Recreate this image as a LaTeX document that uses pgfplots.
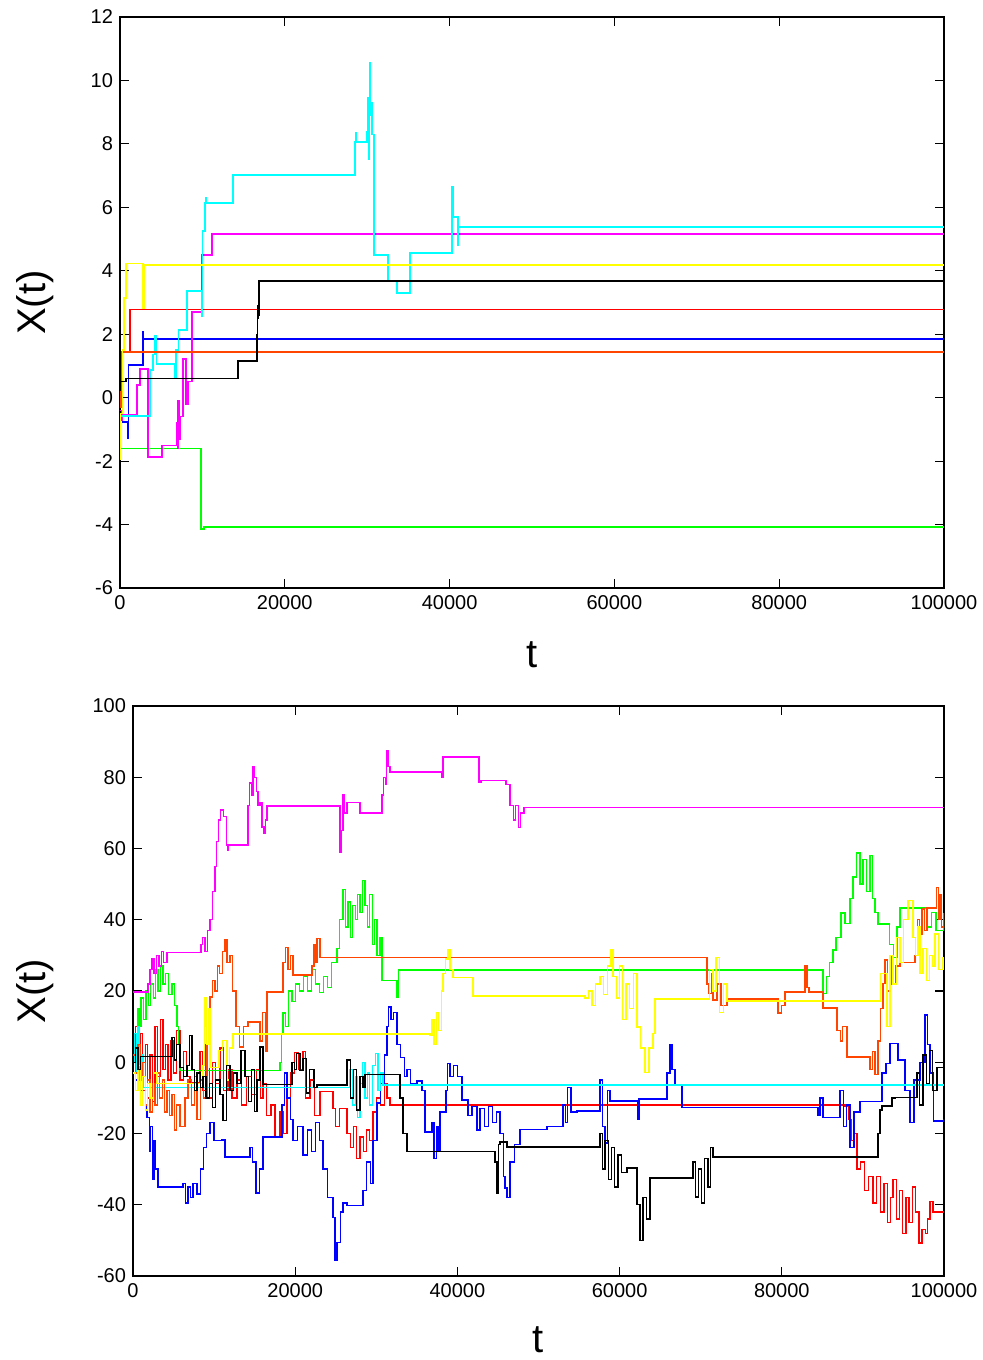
\documentclass[border=0pt]{standalone}
\usepackage{fontspec}
\setmainfont{Liberation Sans}
\usepackage{pgfplots}
\pgfplotsset{compat=1.18}

\definecolor{gpred}{RGB}{255,0,0}
\definecolor{gpgreen}{RGB}{0,255,0}
\definecolor{gpblue}{RGB}{0,0,255}
\definecolor{gpmagenta}{RGB}{255,0,255}
\definecolor{gpcyan}{RGB}{0,255,255}
\definecolor{gporange}{RGB}{255,69,0}
\definecolor{gpyellow}{RGB}{255,255,0}

\pgfplotsset{
  walkaxis/.style={
    scale only axis, anchor=south west,
    xmin=0, xmax=100000,
    scaled ticks=false,
    xtick={0,20000,40000,60000,80000,100000},
    xticklabels={0,20000,40000,60000,80000,100000},
    tick label style={font=\fontsize{10}{12}\selectfont},
    label style={font=\fontsize{20}{24}\selectfont},
    tick align=inside, major tick length=4.5pt,
    axis line style={line width=0.75pt},
    every tick/.style={black, line width=0.6pt},
    xlabel={t}, ylabel={X(t)},
  },
  walk/.style={const plot, no markers, line width=0.65pt},
}

\begin{document}
\begin{tikzpicture}
\useasboundingbox (0,0) rectangle (491.5pt,-680pt);

% ---- upper panel ----
\begin{axis}[walkaxis,
  at={(60pt,-294pt)}, width=412pt, height=285.5pt,
  ymin=-6, ymax=12, ytick={-6,-4,-2,0,2,4,6,8,10,12},
  yticklabels={-6,-4,-2,0,2,4,6,8,10,12},
  xlabel style={at={(rel axis cs:0.5,-0.117)}, anchor=center},
  ylabel style={at={(rel axis cs:-0.103,0.5)}, anchor=center},
]
\addplot[walk, gpred] coordinates {(0,-0.2) (150,1.0) (300,1.44) (1210,2.77) (100000,2.77)};
\addplot[walk, gpgreen] coordinates {(0,-0.9) (100,-1.6) (9830,-4.14) (10200,-4.08) (100000,-4.08)};
\addplot[walk, gpblue] coordinates {(0,-0.5) (300,-0.77) (970,-1.27) (1000,1.03) (2790,2.07) (2850,1.85) (100000,1.85)};
\addplot[walk, gpmagenta] coordinates {(0,-0.4) (150,-0.7) (250,-0.52) (2060,0.4) (2430,0.9) (3400,-1.87) (5100,-1.5) (6920,-0.8) (7000,-1.6) (7050,-0.1) (7150,-1.3) (7280,-0.6) (7650,1.22) (8010,-0.2) (8250,0.5) (8740,2.7) (9950,4.5) (11170,5.16) (100000,5.16)};
\addplot[walk, gpcyan] coordinates {(0,-0.58) (3640,0.87) (4000,1.35) (4250,1.94) (4400,1.06) (6680,0.6) (6800,1.5) (7100,2.13) (8130,3.36) (9950,2.55) (10000,5.25) (10300,6.14) (10400,6.3) (10500,6.14) (13700,7.02) (28520,8.06) (28600,8.34) (28700,8.06) (29980,8.4) (30100,9.45) (30220,7.5) (30300,10.55) (30400,8.9) (30460,9.3) (30600,8.3) (30830,4.5) (32530,3.68) (33620,3.3) (35190,4.56) (40290,6.64) (40400,5.7) (41020,4.8) (41100,5.38) (100000,5.38)};
\addplot[walk, gporange] coordinates {(0,0.2) (120,-0.3) (250,1.44) (100000,1.44)};
\addplot[walk, gpyellow] coordinates {(0,-1.96) (100,-0.5) (300,1.5) (500,3.14) (730,4.24) (2790,2.83) (2910,4.18) (100000,4.18)};
\addplot[walk, black] coordinates {(0,0.5) (730,0.6) (14320,1.16) (16620,2.0) (16700,2.5) (16760,2.9) (16800,2.6) (16870,3.68) (100000,3.68)};
\end{axis}

% ---- lower panel ----
\begin{axis}[walkaxis,
  at={(66.5pt,-638pt)}, width=405.5pt, height=285pt,
  ymin=-60, ymax=100, ytick={-60,-40,-20,0,20,40,60,80,100},
  yticklabels={-60,-40,-20,0,20,40,60,80,100},
  xlabel style={at={(rel axis cs:0.5,-0.112)}, anchor=center},
  ylabel style={at={(rel axis cs:-0.121,0.5)}, anchor=center},
]
\addplot[walk, gpred] coordinates {(0,0) (300,10) (600,-3) (900,8) (1200,-8) (1500,5) (1800,-10) (2100,2) (2400,-11) (2700,10) (3000,-4) (3400,12) (3700,-2) (4000,5) (4300,-5) (4700,6) (5000,-3) (5400,9) (5800,-5) (6200,3) (6600,-4) (7028,-5.6) (8261,3) (8600,-8) (9000,5) (9400,-10) (9800,0) (10200,-6) (10727,4) (11200,-8) (11700,-2) (12200,-10) (12823,-5) (13400,-12) (14000,-4) (14600,-9) (15200,-2) (15700,-10) (16029,-6) (16500,-15) (17000,-12) (17509,-21) (18125,-14) (18500,-20) (18988,-10) (19400,-3) (19900,2.8) (20400,-2) (20961,3) (21300,-10) (21824,-5) (22400,-15) (23057,-8.3) (24660,-13) (25000,-18) (25500,-13) (26386,-20) (26800,-24) (27200,-18) (27600,-27) (27989,-21) (28400,-25) (28800,-19) (29200,-22) (29592,-14) (30000,-10) (30500,-12) (31000,-6) (31319,-10) (31688,-12) (87790,-12.3) (88200,-16) (88600,-22) (89000,-20) (89269,-30) (89700,-28) (90200,-36) (90700,-32) (91242,-39.5) (91700,-32) (92200,-42) (92600,-34) (93000,-45) (93400,-38) (93708,-33) (94100,-44) (94500,-36) (94900,-48) (95300,-38) (95700,-45) (96100,-35) (96500,-42) (96900,-50.7) (97300,-47) (97700,-48) (98000,-44) (98270,-39) (98640,-42) (100000,-42)};
\addplot[walk, gpgreen] coordinates {(0,2) (200,8) (400,5) (600,15) (800,10) (1000,18) (1300,12) (1600,20) (1900,16) (2200,22) (2500,18) (2800,26) (3100,20) (3400,27) (3700,22) (4000,25) (4400,19) (4800,22) (5100,16) (5425,10) (5600,5) (5795,-2.3) (18125,0) (18300,8) (18495,13.8) (18800,10) (19200,20) (19605,17) (20000,22) (20500,20) (21000,24) (21500,20) (22000,26) (22500,22) (23000,19.5) (23500,24) (24000,21) (24500,28) (25153,32) (25500,40) (25893,48.4) (26200,38) (26500,45) (26800,35) (27100,44) (27400,40) (27700,47) (28000,42) (28300,51) (28600,44) (28900,38) (29200,47) (29500,33) (29800,40) (30100,30) (30455,35) (30702,23) (32551,18.3) (32700,25.9) (85077,19.4) (85500,24) (85900,28) (86310,31.5) (86700,35) (87296,41.9) (87790,39) (88406,46) (88776,52) (89200,58.7) (89639,50) (90000,57) (90400,48) (90872,58) (91200,46) (91500,42) (91858,38.8) (92968,38.8) (93300,33) (93800,29.5) (94200,38) (94571,43.3) (97407,43.3) (97800,38) (98500,42) (99000,37) (100000,40)};
\addplot[walk, gpblue] coordinates {(0,0) (300,-5) (600,3) (900,-8) (1200,-4) (1500,-12) (1726,-15.5) (2000,-25) (2200,-18) (2400,-33) (2600,-22) (2800,-30) (3082,-35) (6165,-34) (6500,-39.5) (6800,-35) (7100,-38) (7400,-34) (7891,-37) (8300,-30) (8700,-24) (9100,-20) (9494,-17) (10000,-22) (10974,-21.8) (11344,-26.6) (14426,-24) (14700,-28) (15166,-36.7) (15600,-30) (16029,-21) (18372,-12) (18700,-3) (18988,-10) (19400,-16) (19728,-22) (20300,-18) (20961,-26) (21500,-19) (22000,-25) (22500,-17) (23000,-22) (23427,-30) (24000,-38) (24660,-43.5) (24900,-55.5) (25153,-50.5) (25600,-42) (25893,-39.5) (26386,-40.3) (28359,-36) (28800,-28) (29300,-34) (29600,-22) (30085,-11.4) (30500,-6) (31000,2) (31319,10) (31500,15.5) (31800,12) (32100,14) (32551,5) (33000,1.4) (33500,-4) (33784,-2) (34200,-6) (35017,-5.3) (35634,-8) (36004,-19.6) (36867,-17) (37100,-27) (37400,-18) (37600,-25) (37853,-14) (38300,-14) (38600,-8) (38800,-0.3) (39086,-4) (39500,-1) (40000,-4) (40566,-10.6) (41306,-15) (41800,-12.5) (42415,-19) (42800,-13) (43300,-18) (43800,-12.5) (44300,-17) (44800,-14) (45251,-20) (45700,-32) (45868,-35.3) (46100,-38) (46485,-28) (47000,-23) (47718,-18.8) (51046,-18) (53019,-12) (53300,-17) (53600,-7) (54000,-14) (54745,-13.7) (57581,-5) (57900,-18) (58198,-22.7) (58500,-8) (58814,-10.9) (62267,-16) (62400,-10.3) (65842,-3) (66200,5) (66459,-2) (66829,-6.4) (67692,-12.6) (84461,-15) (84700,-10) (85077,-15.5) (87173,-8) (87600,-18) (88000,-12) (88406,-24) (88900,-14) (89639,-11) (92352,-3) (92845,-0.3) (93338,5.3) (94324,0.6) (95188,-8) (95804,-17) (96300,-5) (97037,0) (97654,13.3) (98000,5) (98270,-3) (98700,-16.5) (100000,-16)};
\addplot[walk, gpmagenta] coordinates {(0,19.7) (1850,22) (2100,26) (2350,29) (2600,25) (2900,30) (3200,27) (3500,31) (3800,28) (4190,30.9) (8380,33) (8600,35) (8880,31) (9200,37) (9500,40) (9800,48) (10100,55) (10300,62) (10500,68) (10750,70.8) (11200,69) (11500,61) (11700,59.5) (11800,61) (14180,72) (14400,78.4) (14600,75) (14800,83) (15000,80) (15200,76) (15400,72) (15660,73) (15900,66) (16150,64.3) (16300,68) (16520,71.9) (25520,59) (25700,65) (25900,75) (26100,70) (26400,73) (27990,70) (30700,75) (30900,80) (31100,78) (31250,87.6) (31440,83) (31690,81.5) (38100,80) (38220,85.7) (42660,78.7) (42900,79) (46000,78) (46500,72) (46900,68) (47200,72) (47500,65.8) (47800,70) (48210,71.6) (100000,71.6)};
\addplot[walk, gpcyan] coordinates {(0,0) (200,8) (400,-3) (600,9.9) (800,-5) (1000,2) (1233,-7) (26756,-2) (27100,-12) (27400,-4) (27700,-15.5) (28000,-6) (28300,0) (28600,-10) (28900,-3) (29200,-12) (29500,-1) (29900,2.5) (30200,-8) (30500,-3) (30825,-6.4) (100000,-6.4)};
\addplot[walk, gporange] coordinates {(0,2) (300,-3) (600,5) (900,-8) (1200,0) (1500,-12) (1800,-5) (2100,-14) (2400,-6) (2700,-12) (3000,-3) (3300,-10) (3600,-5) (3900,-14) (4200,-8) (4500,-15) (4800,-9) (5100,-19) (5400,-12) (5800,-18) (6165,-18) (6400,-10) (6800,-5) (7200,-12) (7600,-4) (7891,-16) (8300,-5) (8700,-10) (9124,5) (9500,18.3) (9800,23) (10100,20) (10400,27) (10700,25) (11000,31) (11344,34.3) (11600,28) (11960,30) (12300,20) (12700,10) (13100,4.3) (13600,10) (14180,11.3) (15660,6) (16000,14) (16300,3) (16522,19.7) (18495,28) (18800,32.3) (19100,26) (19400,30) (19728,24.5) (22071,27) (22300,33) (22441,28) (22700,34.8) (23057,29.5) (70774,22) (71000,19.4) (71300,25) (71514,17.5) (72000,22) (72500,16) (73240,17.8) (79529,13.8) (80000,16) (80392,19.7) (82858,27) (83100,21) (83351,19.7) (85077,15.2) (86803,9) (87200,6) (87500,10) (88036,1.5) (90872,-2) (91200,3) (91500,-3.5) (91858,6) (92200,15) (92475,22.2) (92722,28.7) (93000,20) (93300,30) (93600,22) (94000,27) (94571,28.1) (96421,30) (96700,40) (97000,36) (97300,43) (97600,37) (97900,43.3) (98887,43.3) (99100,49) (99300,40) (99500,47) (99700,38) (100000,42)};
\addplot[walk, gpyellow] coordinates {(0,-3) (300,-8) (600,-1) (900,-12) (1200,-4) (1500,-13.4) (1800,-6) (2100,-10) (2500,-3) (2959,-5.9) (8631,-1) (8800,10) (8878,18) (9100,5) (9300,15) (9494,-1.4) (10357,-1.4) (10600,3.4) (11000,6.2) (11600,-5) (11900,4) (12330,7.9) (36620,7.5) (36867,12) (37100,5) (37400,14) (37700,9) (38000,20) (38223,25) (38500,29) (38840,31.5) (39100,26) (39456,23.7) (41799,23.7) (41922,18.6) (55732,18) (56200,20) (56600,16) (57000,22) (57581,24) (58000,19) (58500,27) (58938,31.5) (59184,24) (59600,18) (60000,27) (60400,12) (60800,22) (61200,15) (61700,25) (62144,9.9) (62600,4) (63130,-2.8) (63623,4) (64116,8) (64363,17.8) (70774,17.8) (71100,26) (71500,20) (71900,29.5) (72300,14) (72800,22) (73240,17.2) (91858,17.2) (92200,25) (92968,10) (93338,30) (93700,22) (94100,35) (94571,28) (95000,40) (95557,45.5) (96174,35) (96500,30) (96800,38) (97037,25) (97400,32) (97800,23) (98200,30) (98600,27) (98887,36) (99300,26) (99873,29.3) (100000,29.3)};
\addplot[walk, black] coordinates {(0,0) (300,4) (600,-2) (900,1.7) (4562,1.7) (4800,7) (5100,0.6) (5400,5) (5795,-1.4) (6200,-4) (6658,-1) (7000,7.6) (7275,-2) (7600,-8) (7891,-3) (8300,-7) (8631,-4) (9000,-10) (9400,-6) (9800,-12.6) (10200,-5) (10727,-9) (11100,-16.3) (11500,-1) (11960,-8) (12400,-3) (12823,-6) (13300,3.4) (13810,-4) (14200,-11) (14600,-2) (15000,-13.9) (15300,-5) (15659,4.3) (16029,-6.2) (19605,0) (19900,-2) (20200,2.5) (20600,-2.3) (20961,1) (21400,-8.6) (21800,-2) (22300,-7) (22687,-6.4) (26386,0.6) (26800,-10) (27200,-2) (27600,-13.4) (28000,-4) (28359,-7) (28606,-3.4) (32921,-10) (33300,-20) (33784,-25) (44635,-28) (44900,-36.7) (45100,-23) (45251,-22.4) (46114,-23.8) (57581,-20) (57900,-30) (58200,-22) (58600,-33) (59000,-24) (59400,-35) (59800,-26) (60200,-31) (60910,-29.7) (62144,-40) (62500,-50) (62883,-38) (63300,-44) (63747,-32.5) (69048,-28) (69400,-37.8) (69700,-30) (70100,-39.5) (70500,-27) (70900,-35) (71200,-24) (71514,-26.6) (91858,-20) (92100,-13.4) (92352,-12.3) (93585,-10) (93955,-9.8) (96667,-3) (97000,-12) (97400,2) (97800,-6) (98200,3.4) (98600,-8) (99133,-1.4) (100000,-1.4)};
\end{axis}
\end{tikzpicture}
\end{document}
